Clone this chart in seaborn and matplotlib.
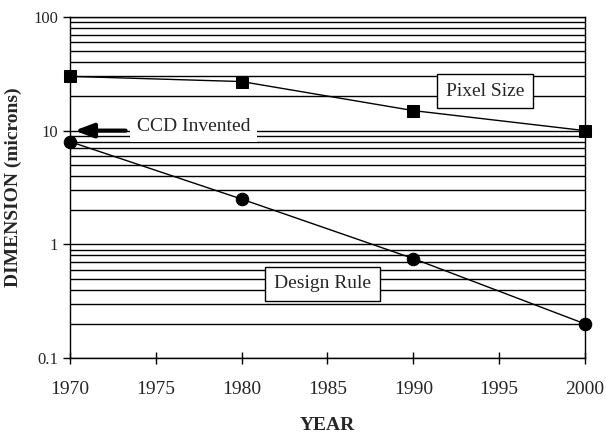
import pandas as pd
import seaborn as sns
import matplotlib.pyplot as plt
from matplotlib.ticker import LogLocator, NullFormatter

years = [1970, 1980, 1990, 2000]
pixel_size = [30, 27, 15, 10]
design_rule = [8, 2.5, 0.75, 0.2]

df = pd.DataFrame({
    'YEAR': years * 2,
    'DIMENSION': pixel_size + design_rule,
    'Series': ['Pixel Size'] * 4 + ['Design Rule'] * 4,
})

sns.set_theme(style="white")
plt.rcParams['font.family'] = ['Liberation Serif', 'DejaVu Serif']
plt.rcParams['font.size'] = 14

fig = plt.figure(figsize=(6.06, 4.33), dpi=100)
ax = fig.add_axes([0.1155, 0.173, 0.8498, 0.788])

sns.lineplot(data=df, x='YEAR', y='DIMENSION', hue='Series', style='Series',
             markers={'Pixel Size': 's', 'Design Rule': 'o'}, dashes=False,
             palette={'Pixel Size': 'black', 'Design Rule': 'black'},
             markersize=9, linewidth=1.0, markeredgecolor='black',
             legend=False, ax=ax, zorder=3, clip_on=False)

ax.set_yscale('log')
ax.set_ylim(0.1, 100)
ax.set_xlim(1970, 2000)
ax.set_xticks([1970, 1975, 1980, 1985, 1990, 1995, 2000])
ax.set_yticks([0.1, 1, 10, 100])
ax.set_yticklabels(['0.1', '1', '10', '100'])
ax.yaxis.set_minor_locator(LogLocator(base=10, subs=range(2, 10)))
ax.yaxis.set_minor_formatter(NullFormatter())

ax.grid(True, which='both', axis='y', color='black', linewidth=1.0)
ax.grid(False, axis='x')
for s in ax.spines.values():
    s.set_color('black')
    s.set_linewidth(1.0)

ax.tick_params(axis='x', direction='inout', length=9, width=1, color='black',
               labelsize=14, pad=12, bottom=True)
ax.tick_params(axis='y', which='major', direction='out', length=5, width=1,
               color='black', labelsize=12, left=True)
ax.tick_params(axis='y', which='minor', length=0)

ax.set_xlabel('YEAR', fontsize=14, fontweight='bold', labelpad=14)
ax.set_ylabel('DIMENSION (microns)', fontsize=14, fontweight='bold', labelpad=8)

box = dict(boxstyle='square,pad=0.45', facecolor='white', edgecolor='black', linewidth=1.0)
ax.text(1994.2, 22.3, 'Pixel Size', ha='center', va='center', fontsize=14, bbox=box, zorder=4)
ax.text(1984.7, 0.45, 'Design Rule', ha='center', va='center', fontsize=14, bbox=box, zorder=4)

ax.annotate('', xy=(1970.1, 10), xytext=(1973.4, 10),
            arrowprops=dict(arrowstyle='-|>,head_length=0.8,head_width=0.3',
                            color='black', linewidth=3), zorder=4)
ax.text(1977.2, 10.9, 'CCD Invented', ha='center', va='center', fontsize=14,
        bbox=dict(boxstyle='square,pad=0.35', facecolor='white', edgecolor='none'), zorder=4)

fig.savefig('out.png', dpi=100)
